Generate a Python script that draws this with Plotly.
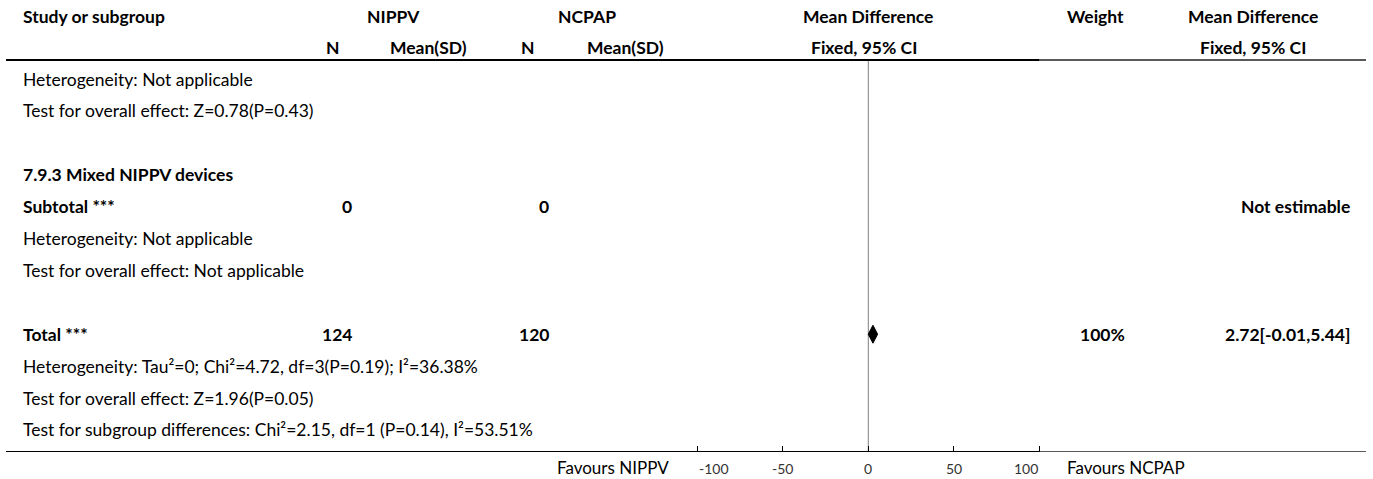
import plotly.graph_objects as go

# ---------------- data ----------------
row_labels = [
    "Heterogeneity: Not applicable",
    "Test for overall effect: Z=0.78(P=0.43)",
    "",
    "7.9.3 Mixed NIPPV devices",
    "Subtotal ***",
    "Heterogeneity: Not applicable",
    "Test for overall effect: Not applicable",
    "",
    "Total ***",
    "Heterogeneity: Tau²=0; Chi²=4.72, df=3(P=0.19); I²=36.38%",
    "Test for overall effect: Z=1.96(P=0.05)",
    "Test for subgroup differences: Chi²=2.15, df=1 (P=0.14), I²=53.51%",
]
row_bold = [False, False, False, True, True, False, False, False, True, False, False, False]
nippv_n = ["", "", "", "", "0", "", "", "", "124", "", "", ""]
ncpap_n = ["", "", "", "", "0", "", "", "", "120", "", "", ""]
weights = ["", "", "", "", "", "", "", "", "100%", "", "", ""]
md_text = ["", "", "", "", "Not estimable", "", "", "", "2.72[-0.01,5.44]", "", "", ""]

total_est = 2.72
total_lo = -0.01
total_hi = 5.44
total_row = 8

tick_vals = [-100, -50, 0, 50, 100]
tick_text = ["-100", "-50", "0", "50", "100"]
favours_left = "Favours NIPPV"
favours_right = "Favours NCPAP"

# ---------------- layout helpers ----------------
W, H = 1373, 479
ML, MR = 6, 7
PLOT_BOTTOM = 452
X0_PX = 868.3
PX_PER_UNIT = 1.713

def px_to_paper(px):
    return (px - ML) / (W - ML - MR)

def py_to_paper(py):
    return (PLOT_BOTTOM - py) / PLOT_BOTTOM

x_left = (ML - X0_PX) / PX_PER_UNIT
x_right = (W - MR - X0_PX) / PX_PER_UNIT
x_split = 100.0  # where the thick rule ends (right end of the scale)

ROW0_Y = 79
ROW_STEP = 31.9
def row_y(i):
    return ROW0_Y + ROW_STEP * i

FONT = "Source Sans Pro, Lato, sans-serif"
FS = 17.5
BLACK = "#000000"

fig = go.Figure()

# diamond for total
ty = row_y(total_row)
fig.add_trace(go.Scatter(
    x=[total_lo, total_est, total_hi, total_est, total_lo],
    y=[ty, ty - 9, ty, ty + 9, ty],
    fill="toself", fillcolor=BLACK, mode="lines",
    line=dict(color=BLACK, width=1), hoverinfo="skip", showlegend=False,
))

annotations = []

def add_text(px, py, text, anchor="left", bold=False, size=FS, color=BLACK):
    annotations.append(dict(
        x=px_to_paper(px), xref="paper", y=py_to_paper(py), yref="paper",
        text=f"<b>{text}</b>" if bold else text,
        showarrow=False, xanchor=anchor, yanchor="middle",
        font=dict(family=FONT, size=size, color=color),
    ))

# headers
H1, H2 = 16, 47
add_text(21, H1, "Study or subgroup", bold=True)
add_text(393, H1, "NIPPV", "center", True)
add_text(587, H1, "NCPAP", "center", True)
add_text(868, H1, "Mean Difference", "center", True)
add_text(1095, H1, "Weight", "center", True)
add_text(1253, H1, "Mean Difference", "center", True)
add_text(332, H2, "N", "center", True)
add_text(428, H2, "Mean(SD)", "center", True)
add_text(527, H2, "N", "center", True)
add_text(625, H2, "Mean(SD)", "center", True)
add_text(864, H2, "Fixed, 95% CI", "center", True)
add_text(1253, H2, "Fixed, 95% CI", "center", True)

# rows
for i, lab in enumerate(row_labels):
    y = row_y(i)
    if lab:
        add_text(21, y, lab, bold=row_bold[i])
    if nippv_n[i]:
        add_text(354, y, nippv_n[i], "right", True)
    if ncpap_n[i]:
        add_text(551, y, ncpap_n[i], "right", True)
    if weights[i]:
        add_text(1102, y, weights[i], "center", True)
    if md_text[i]:
        add_text(1352, y, md_text[i], "right", True)

# favours labels
add_text(671, 467, favours_left, "right", size=17)
add_text(1065, 467, favours_right, "left", size=17)

# tick labels, placed on the x axis scale (end labels anchored inward)
for v, t in zip(tick_vals, tick_text):
    anchor = "left" if v == min(tick_vals) else ("right" if v == max(tick_vals) else "center")
    annotations.append(dict(
        x=v, xref="x", y=py_to_paper(468), yref="paper", text=t,
        showarrow=False, xanchor=anchor, yanchor="middle",
        font=dict(family=FONT, size=14, color="#333333"),
    ))

shapes = [
    # header rule (thick part then thinner part)
    dict(type="line", xref="x", yref="y", x0=x_left, x1=x_split, y0=60, y1=60,
         line=dict(color=BLACK, width=2)),
    dict(type="line", xref="x", yref="y", x0=x_split, x1=x_right, y0=60, y1=60,
         line=dict(color="#222222", width=1.5)),
    # bottom rule
    dict(type="line", xref="x", yref="y", x0=x_left, x1=x_split, y0=PLOT_BOTTOM, y1=PLOT_BOTTOM,
         line=dict(color=BLACK, width=2)),
    dict(type="line", xref="x", yref="y", x0=x_split, x1=x_right, y0=PLOT_BOTTOM, y1=PLOT_BOTTOM,
         line=dict(color="#222222", width=1.5)),
    # null line
    dict(type="line", xref="x", yref="y", x0=0, x1=0, y0=60, y1=PLOT_BOTTOM,
         line=dict(color="#808080", width=1), layer="below"),
]

fig.update_layout(
    width=W, height=H,
    margin=dict(l=ML, r=MR, t=0, b=H - PLOT_BOTTOM, pad=0),
    paper_bgcolor="white", plot_bgcolor="white",
    showlegend=False,
    annotations=annotations,
    shapes=shapes,
    xaxis=dict(
        range=[x_left, x_right], showgrid=False, zeroline=False,
        showline=False,
        ticks="inside", ticklen=6, tickwidth=1, tickcolor=BLACK,
        tickvals=tick_vals, showticklabels=False,
        fixedrange=True,
    ),
    yaxis=dict(
        range=[PLOT_BOTTOM, 0], showgrid=False, zeroline=False,
        showline=False, showticklabels=False, ticks="", fixedrange=True,
    ),
)

fig.write_html(
    "out.html",
    config={"displayModeBar": False},
    post_script="document.body.style.margin='0';document.body.style.overflow='hidden';",
)
